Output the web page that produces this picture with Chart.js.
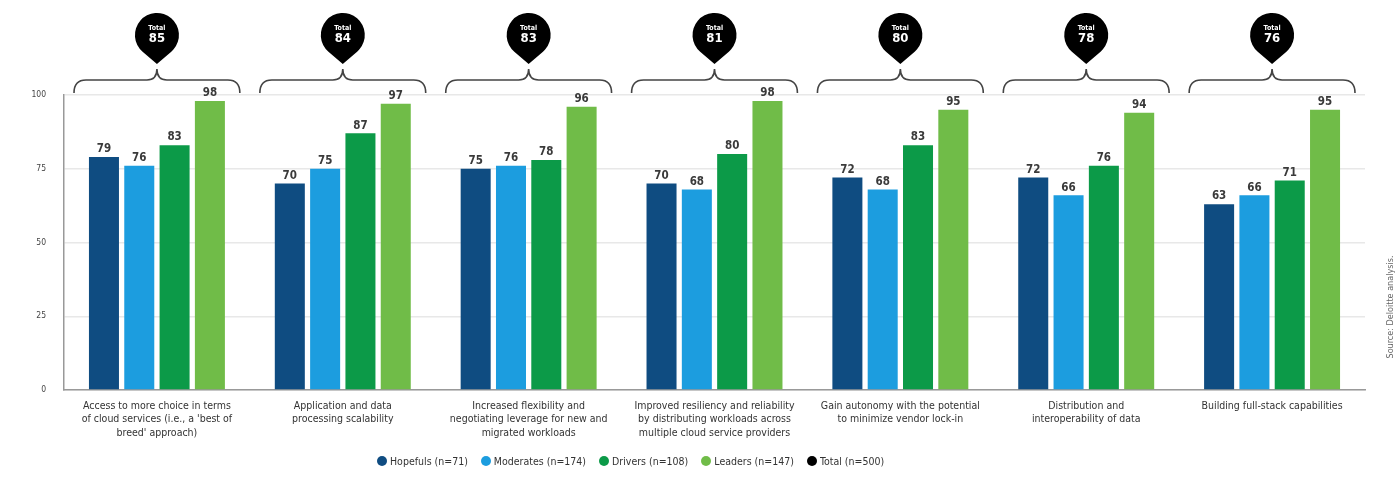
<!DOCTYPE html>
<html>
<head>
<meta charset="utf-8">
<script src="https://cdn.jsdelivr.net/npm/chart.js@4/dist/chart.umd.min.js"></script>
<style>
  html, body { margin: 0; padding: 0; background: #fff; }
  #wrap { position: relative; width: 1399px; height: 497px; }
  #legend {
    position: absolute; left: 377px; top: 455px;
    display: flex; gap: 13px;
    font: 10.5px "Liberation Sans Narrow", "DejaVu Sans Condensed", sans-serif;
    color: #333;
  }
  #legend span { display: flex; align-items: center; }
  #legend i { display: inline-block; width: 10px; height: 10px; border-radius: 50%; margin-right: 3px; }
</style>
</head>
<body>
<div id="wrap">
  <canvas id="chart" width="1399" height="497"></canvas>
  <div id="legend"></div>
</div>
<script>
const categories = [
  ["Access to more choice in terms", "of cloud services (i.e., a 'best of", "breed' approach)"],
  ["Application and data", "processing scalability"],
  ["Increased flexibility and", "negotiating leverage for new and", "migrated workloads"],
  ["Improved resiliency and reliability", "by distributing workloads across", "multiple cloud service providers"],
  ["Gain autonomy with the potential", "to minimize vendor lock-in"],
  ["Distribution and", "interoperability of data"],
  ["Building full-stack capabilities"]
];
const hopefuls  = [79, 70, 75, 70, 72, 72, 63];
const moderates = [76, 75, 76, 68, 68, 66, 66];
const drivers   = [83, 87, 78, 80, 83, 76, 71];
const leaders   = [98, 97, 96, 98, 95, 94, 95];
const totals    = [85, 84, 83, 81, 80, 78, 76];
const yTicks    = [0, 25, 50, 75, 100];

const seriesNames = ["Hopefuls (n=71)", "Moderates (n=174)", "Drivers (n=108)", "Leaders (n=147)"];
const totalName = "Total (n=500)";
const colors = ["#0f4c81", "#1c9ddf", "#0c9a48", "#70bc48"];
const condensed = '"Liberation Sans Narrow", "DejaVu Sans Condensed", sans-serif';

// value labels above each bar
const valueLabels = {
  id: 'valueLabels',
  afterDatasetsDraw(chart) {
    const ctx = chart.ctx;
    ctx.save();
    ctx.font = 'bold 11.5px ' + condensed;
    ctx.fillStyle = '#3a3a3a';
    ctx.textAlign = 'center';
    ctx.textBaseline = 'bottom';
    chart.data.datasets.forEach((ds, i) => {
      chart.getDatasetMeta(i).data.forEach((bar, j) => {
        ctx.fillText(ds.data[j], bar.x, bar.y - 2);
      });
    });
    ctx.restore();
  }
};

// brace over each group with a black pin holding the total
const totalPins = {
  id: 'totalPins',
  afterDraw(chart) {
    const ctx = chart.ctx;
    const x = chart.scales.x;
    const top = chart.chartArea.top;
    const half = x.width / categories.length / 2 - 10;
    totals.forEach((t, i) => {
      const cx = x.getPixelForValue(i);
      // brace
      const yEnd = top - 2, yArm = top - 15, yPeak = top - 26;
      ctx.save();
      ctx.strokeStyle = '#444';
      ctx.lineWidth = 1.6;
      ctx.beginPath();
      ctx.moveTo(cx - half, yEnd);
      ctx.quadraticCurveTo(cx - half, yArm, cx - half + 12, yArm);
      ctx.lineTo(cx - 10, yArm);
      ctx.quadraticCurveTo(cx, yArm, cx, yPeak);
      ctx.quadraticCurveTo(cx, yArm, cx + 10, yArm);
      ctx.lineTo(cx + half - 12, yArm);
      ctx.quadraticCurveTo(cx + half, yArm, cx + half, yEnd);
      ctx.stroke();

      // pin
      const r = 22, cy = top - 60, tipY = top - 31;
      const d = tipY - cy;
      const a = Math.acos(r / d);
      ctx.fillStyle = '#000';
      ctx.beginPath();
      ctx.moveTo(cx, tipY);
      ctx.arc(cx, cy, r, Math.PI / 2 + a, Math.PI / 2 - a + Math.PI * 2);
      ctx.closePath();
      ctx.fill();

      ctx.fillStyle = '#fff';
      ctx.textAlign = 'center';
      ctx.textBaseline = 'middle';
      ctx.font = 'bold 7px ' + condensed;
      ctx.fillText('Total', cx, cy - 7);
      ctx.font = 'bold 13px ' + condensed;
      ctx.fillText(t, cx, cy + 4);
      ctx.restore();
    });

    // source note on the right edge
    ctx.save();
    ctx.translate(1391, 307);
    ctx.rotate(-Math.PI / 2);
    ctx.font = '9px ' + condensed;
    ctx.fillStyle = '#666';
    ctx.textAlign = 'center';
    ctx.textBaseline = 'middle';
    ctx.fillText('Source: Deloitte analysis.', 0, 0);
    ctx.restore();
  }
};

new Chart(document.getElementById('chart'), {
  type: 'bar',
  data: {
    labels: categories,
    datasets: [hopefuls, moderates, drivers, leaders].map((d, i) => ({
      label: seriesNames[i],
      data: d,
      backgroundColor: colors[i],
      categoryPercentage: 0.76,
      barPercentage: 0.85
    }))
  },
  options: {
    responsive: false,
    animation: false,
    layout: { padding: { top: 95, right: 34, left: 0, bottom: 0 } },
    plugins: {
      legend: { display: false },
      tooltip: { enabled: false }
    },
    scales: {
      x: {
        grid: { display: false, drawTicks: false },
        border: { color: '#999', width: 1.5 },
        ticks: {
          color: '#333',
          padding: 10,
          autoSkip: false,
          maxRotation: 0,
          font: { family: condensed, size: 10.5, lineHeight: 1.25 }
        },
        afterFit(scale) { scale.height = 107; }
      },
      y: {
        min: 0,
        max: 100,
        afterBuildTicks(scale) { scale.ticks = yTicks.map(v => ({ value: v })); },
        grid: { color: '#e8e8e8', drawTicks: false, lineWidth: 1.5 },
        border: { color: '#999', width: 1.5 },
        ticks: {
          color: '#444',
          padding: 18,
          font: { family: condensed, size: 8.5 }
        },
        afterFit(scale) { scale.width = 64; }
      }
    }
  },
  plugins: [valueLabels, totalPins]
});

// legend row
const legend = document.getElementById('legend');
seriesNames.concat([totalName]).forEach((name, i) => {
  const item = document.createElement('span');
  const dot = document.createElement('i');
  dot.style.background = colors[i] || '#000';
  item.appendChild(dot);
  item.appendChild(document.createTextNode(name));
  legend.appendChild(item);
});
</script>
</body>
</html>
